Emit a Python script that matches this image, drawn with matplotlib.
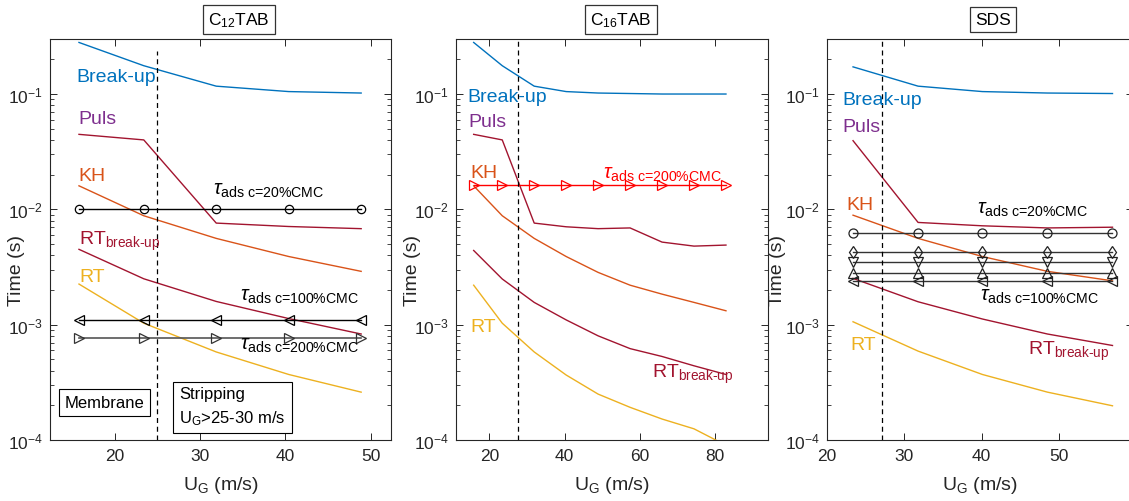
import matplotlib
matplotlib.use('Agg')
import matplotlib.pyplot as plt
from matplotlib.ticker import LogLocator, NullFormatter

plt.rcParams['font.family'] = ['Liberation Sans', 'DejaVu Sans']
plt.rcParams['mathtext.fontset'] = 'custom'
plt.rcParams['mathtext.rm'] = 'Liberation Sans'
plt.rcParams['mathtext.it'] = 'Liberation Sans:italic'
plt.rcParams['mathtext.bf'] = 'Liberation Sans:bold'

# MATLAB default colours
BLUE = '#0072BD'
ORANGE = '#D95319'
YELLOW = '#EDB120'
PURPLE = '#7E2F8E'
DRED = '#A2142F'
AX = '#262626'

# ---- C12TAB ----
ug_c12 = [15.8, 23.4, 31.9, 40.4, 48.9]
c12_breakup = [0.28, 0.176, 0.117, 0.105, 0.102]
c12_puls = [0.0447, 0.040, 0.0076, 0.0071, 0.0068]
c12_kh = [0.016, 0.0088, 0.0056, 0.0039, 0.0029]
c12_rtb = [0.0045, 0.0025, 0.00159, 0.00113, 0.00083]
c12_rt = [0.00225, 0.00103, 0.00058, 0.00037, 0.00026]
c12_tau20 = 0.010
c12_tau100 = 0.0011
c12_tau200 = 0.00077

# ---- C16TAB ----
ug_c16 = [15.8, 23.4, 31.9, 40.4, 48.9, 57.4, 65.9, 74.4, 82.9]
c16_breakup = [0.28, 0.176, 0.117, 0.105, 0.102, 0.101, 0.100, 0.100, 0.100]
c16_puls = [0.0447, 0.040, 0.0076, 0.00706, 0.0068, 0.0069, 0.0052, 0.0048, 0.0049]
c16_kh = [0.016, 0.0088, 0.0056, 0.0039, 0.00284, 0.0022, 0.00184, 0.00156, 0.00132]
c16_rtb = [0.0044, 0.00249, 0.00156, 0.0011, 0.0008, 0.00062, 0.00053, 0.00044, 0.00037]
c16_rt = [0.0022, 0.00103, 0.00058, 0.000366, 0.00025, 0.000192, 0.000152, 0.000125, 0.00009]
c16_tau200 = 0.0163

# ---- SDS ----
ug_sds = [23.4, 31.8, 40.1, 48.5, 56.9]
sds_breakup = [0.172, 0.117, 0.105, 0.102, 0.101]
sds_puls = [0.0394, 0.0077, 0.0072, 0.0069, 0.0070]
sds_kh = [0.0089, 0.0056, 0.0039, 0.0029, 0.0024]
sds_rtb = [0.00252, 0.00158, 0.00112, 0.00083, 0.00066]
sds_rt = [0.00106, 0.00059, 0.00037, 0.00026, 0.000198]
sds_tau = [0.0062, 0.0043, 0.00347, 0.0028, 0.00237]
sds_tau_markers = ['o', 'd', 'v', '^', '<']

W, H = 1129, 502
fig = plt.figure(figsize=(W / 100, H / 100), dpi=100)


def box(l, r, top=40, bottom=441):
    return [l / W, (H - bottom) / H, (r - l) / W, (bottom - top) / H]


def style(ax, xlim, xticks, ylabel_x):
    ax.set_yscale('log')
    ax.set_ylim(1e-4, 0.3)
    ax.set_xlim(*xlim)
    ax.set_xticks(xticks)
    ax.set_yticks([1e-4, 1e-3, 1e-2, 1e-1])
    ax.yaxis.set_minor_locator(LogLocator(base=10, subs=range(2, 10), numticks=20))
    ax.yaxis.set_minor_formatter(NullFormatter())
    ax.tick_params(which='both', direction='in', top=True, right=True, colors=AX,
                   labelsize=12.5)
    ax.tick_params(which='major', length=5, width=0.7)
    ax.tick_params(which='minor', length=2.8, width=0.6)
    ax.tick_params(axis='x', pad=6)
    ax.tick_params(axis='y', pad=5)
    for s in ax.spines.values():
        s.set_color(AX)
        s.set_linewidth(0.8)
    ax.set_ylabel('Time (s)', fontsize=14, color=AX)
    ax.yaxis.set_label_coords(ylabel_x, 0.424)
    ax.set_xlabel(r'U$_\mathrm{G}$ (m/s)', fontsize=14, color=AX, labelpad=8)


def curves(ax, x, br, pu, kh, rtb, rt):
    ax.plot(x, br, color=BLUE, lw=1.0)
    ax.plot(x, pu, color=DRED, lw=1.0)
    ax.plot(x, kh, color=ORANGE, lw=1.0)
    ax.plot(x, rtb, color=DRED, lw=1.0)
    ax.plot(x, rt, color=YELLOW, lw=1.0)


def title_box(ax, xf, txt):
    ax.text(xf, 1.049, txt, transform=ax.transAxes, ha='center', va='center',
            fontsize=12.5, color='k',
            bbox=dict(boxstyle='square,pad=0.3', fc='white', ec='#333333', lw=0.9))


def tau(c):
    return r'$\tau_{\text{ads c=' + c + r'\%CMC}}$'


LBL = 14
SUB = 14.5
RTB = r'RT$_{\text{break-up}}$'

# ---------- panel 1 ----------
ax1 = fig.add_axes(box(50, 391))
curves(ax1, ug_c12, c12_breakup, c12_puls, c12_kh, c12_rtb, c12_rt)
ax1.plot(ug_c12, [c12_tau20] * len(ug_c12), color='k', lw=1.0, marker='o', ms=6,
         mfc='none', mec='k', mew=0.9)
ax1.plot(ug_c12, [c12_tau100] * len(ug_c12), color='k', lw=1.0, marker='<', ms=6.5,
         mfc='none', mec='k', mew=0.9)
ax1.plot(ug_c12, [c12_tau200] * len(ug_c12), color='#555555', lw=1.2, marker='>', ms=6.5,
         mfc='none', mec='#333333', mew=0.9)
ax1.vlines(25, 1e-4, 0.236, colors='k', linestyles=(0, (4, 3)), lw=0.9)
style(ax1, (12.4, 52.4), [20, 30, 40, 50], -0.073)
title_box(ax1, 0.554, r'C$_{12}$TAB')
ax1.text(15.5, 0.1406, 'Break-up', color=BLUE, fontsize=LBL, va='center')
ax1.text(15.7, 0.0612, 'Puls', color=PURPLE, fontsize=LBL, va='center')
ax1.text(15.7, 0.0198, 'KH', color=ORANGE, fontsize=LBL, va='center')
ax1.text(15.8, 0.0050, RTB, color=DRED, fontsize=LBL, va='baseline')
ax1.text(15.8, 0.00237, 'RT', color=YELLOW, fontsize=LBL, va='baseline')
ax1.text(31.5, 0.0138, tau('20'), fontsize=SUB, va='baseline')
ax1.text(34.7, 0.00166, tau('100'), fontsize=SUB, va='baseline')
ax1.text(34.7, 0.000624, tau('200'), fontsize=SUB, va='baseline')
ax1.text(18.77, 0.000212, 'Membrane', fontsize=12, ha='center', va='center',
         bbox=dict(boxstyle='square,pad=0.35', fc='white', ec='k', lw=0.8))
ax1.text(33.8, 0.000195, 'Stripping\n' + r'U$_\mathrm{G}$>25-30 m/s', fontsize=12,
         ha='center', va='center', multialignment='left', linespacing=1.5,
         bbox=dict(boxstyle='square,pad=0.35', fc='white', ec='k', lw=0.8))

# ---------- panel 2 ----------
ax2 = fig.add_axes(box(456, 767.7))
curves(ax2, ug_c16, c16_breakup, c16_puls, c16_kh, c16_rtb, c16_rt)
ax2.plot(ug_c16, [c16_tau200] * len(ug_c16), color='#FF0000', lw=1.0, marker='>', ms=6.5,
         mfc='none', mec='#FF0000', mew=0.9)
ax2.axvline(27.7, color='k', ls=(0, (4, 3)), lw=0.9)
style(ax2, (11.1, 94.0), [20, 40, 60, 80], -0.112)
title_box(ax2, 0.529, r'C$_{16}$TAB')
ax2.text(14.15, 0.0961, 'Break-up', color=BLUE, fontsize=LBL, va='center')
ax2.text(14.4, 0.0577, 'Puls', color=PURPLE, fontsize=LBL, va='center')
ax2.text(15.05, 0.0210, 'KH', color=ORANGE, fontsize=LBL, va='center')
ax2.text(50.3, 0.0189, tau('200'), color='#FF0000', fontsize=SUB, va='baseline')
ax2.text(15.05, 0.00088, 'RT', color=YELLOW, fontsize=LBL, va='baseline')
ax2.text(63.2, 0.000352, RTB, color=DRED, fontsize=LBL, va='baseline')

# ---------- panel 3 ----------
ax3 = fig.add_axes(box(826.7, 1133.4))
curves(ax3, ug_sds, sds_breakup, sds_puls, sds_kh, sds_rtb, sds_rt)
for val, m in zip(sds_tau, sds_tau_markers):
    ms = 7.5 if m in ('v', '^') else 6.5
    ax3.plot(ug_sds, [val] * len(ug_sds), color='#333333', lw=1.0, marker=m, ms=ms,
             mfc='none', mec='#222222', mew=0.9)
ax3.axvline(27.1, color='k', ls=(0, (4, 3)), lw=0.9)
style(ax3, (20, 59.6), [20, 30, 40, 50], -0.133)
title_box(ax3, 0.542, 'SDS')
ax3.text(22.07, 0.0905, 'Break-up', color=BLUE, fontsize=LBL, va='center')
ax3.text(22.07, 0.0527, 'Puls', color=PURPLE, fontsize=LBL, va='center')
ax3.text(22.5, 0.0110, 'KH', color=ORANGE, fontsize=LBL, va='center')
ax3.text(39.4, 0.0094, tau('20'), fontsize=SUB, va='baseline')
ax3.text(39.8, 0.00166, tau('100'), fontsize=SUB, va='baseline')
ax3.text(23.1, 0.00061, 'RT', color=YELLOW, fontsize=LBL, va='baseline')
ax3.text(46.0, 0.000553, RTB, color=DRED, fontsize=LBL, va='baseline')

fig.savefig('out.png', dpi=100)
